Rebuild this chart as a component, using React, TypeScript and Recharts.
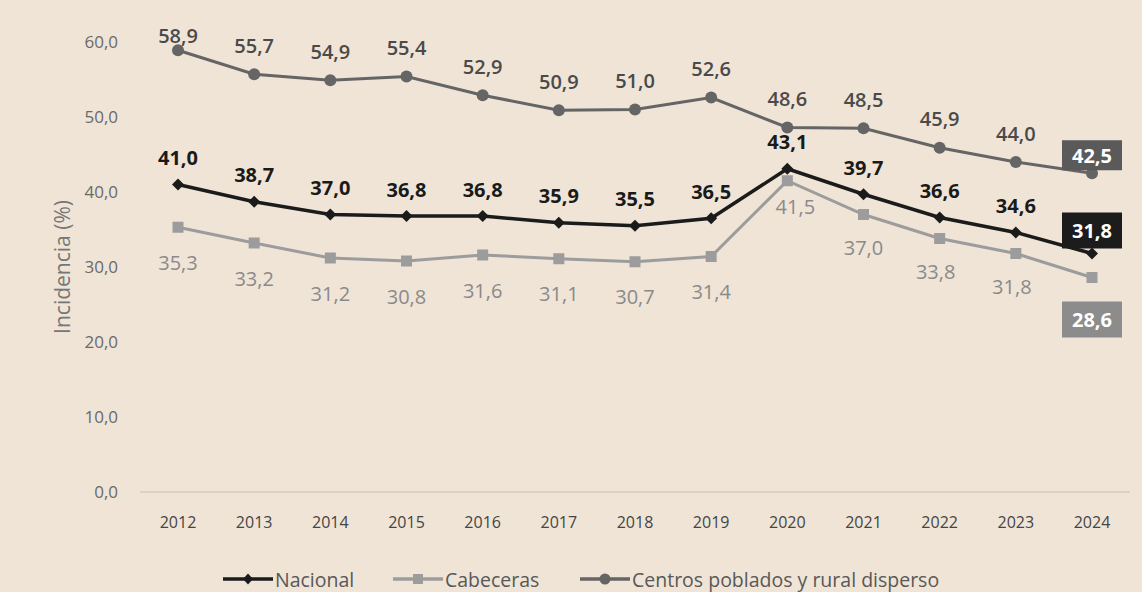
import React from 'react';
import { LineChart, Line, XAxis, YAxis, Legend, LabelList } from 'recharts';

const years = ['2012', '2013', '2014', '2015', '2016', '2017', '2018', '2019', '2020', '2021', '2022', '2023', '2024'];
const nacional = [41.0, 38.7, 37.0, 36.8, 36.8, 35.9, 35.5, 36.5, 43.1, 39.7, 36.6, 34.6, 31.8];
const cabeceras = [35.3, 33.2, 31.2, 30.8, 31.6, 31.1, 30.7, 31.4, 41.5, 37.0, 33.8, 31.8, 28.6];
const centros = [58.9, 55.7, 54.9, 55.4, 52.9, 50.9, 51.0, 52.6, 48.6, 48.5, 45.9, 44.0, 42.5];
const yTicks = [0, 10, 20, 30, 40, 50, 60];
const seriesNames = ['Nacional', 'Cabeceras', 'Centros poblados y rural disperso'];

const data = years.map((year, i) => ({
  year,
  nacional: nacional[i],
  cabeceras: cabeceras[i],
  centros: centros[i],
}));

const FONT = '"Open Sans", "Noto Sans", sans-serif';
const BG = '#efe4d6';
const C_NAC = '#1b1b1b';
const C_CAB = '#9c9c9c';
const C_CEN = '#656565';
const LBL = 20;

const fmt = (v: number) => v.toFixed(1).replace('.', ',');
const last = years.length - 1;

const NacLabel = (p: any) => {
  const { x, y, value, index } = p;
  if (index === last) {
    const cy = y - 23;
    return (
      <g>
        <rect x={x - 30} y={cy - 18} width={60} height={36} fill="#1c1c1c" />
        <text x={x} y={cy} textAnchor="middle" dominantBaseline="central" fill="#fff" fontSize={LBL} fontWeight={700} fontFamily={FONT}>{fmt(value)}</text>
      </g>
    );
  }
  return (
    <text x={x} y={y - 27} textAnchor="middle" dominantBaseline="central" fill="#1a1a1a" fontSize={LBL} fontWeight={700} fontFamily={FONT}>{fmt(value)}</text>
  );
};

const CabLabel = (p: any) => {
  const { x, y, value, index } = p;
  if (index === last) {
    const cy = y + 42;
    return (
      <g>
        <rect x={x - 30} y={cy - 18} width={60} height={36} fill="#8c8c8c" />
        <text x={x} y={cy} textAnchor="middle" dominantBaseline="central" fill="#fff" fontSize={LBL} fontWeight={700} fontFamily={FONT}>{fmt(value)}</text>
      </g>
    );
  }
  const dy = index === 8 ? 26 : index >= 9 ? 33 : 35;
  const dx = index === 8 ? 8 : index >= 10 ? -4 : 0;
  return (
    <text x={x + dx} y={y + dy} textAnchor="middle" dominantBaseline="central" fill="#8a8a8a" fontSize={LBL} fontWeight={500} fontFamily={FONT}>{fmt(value)}</text>
  );
};

const CenLabel = (p: any) => {
  const { x, y, value, index } = p;
  if (index === last) {
    const cy = y - 18;
    return (
      <g>
        <rect x={x - 30} y={cy - 15} width={60} height={30} fill="#5a5a5a" />
        <text x={x} y={cy} textAnchor="middle" dominantBaseline="central" fill="#fff" fontSize={LBL} fontWeight={700} fontFamily={FONT}>{fmt(value)}</text>
      </g>
    );
  }
  const ty = Math.max(y - 29, 27);
  return (
    <text x={x} y={ty} textAnchor="middle" dominantBaseline="central" fill="#4a4a4a" fontSize={LBL} fontWeight={600} fontFamily={FONT}>{fmt(value)}</text>
  );
};

const DiamondDot = (p: any) => {
  const { cx, cy, index } = p;
  const s = 6;
  return <path key={`d${index}`} d={`M${cx},${cy - s}L${cx + s},${cy}L${cx},${cy + s}L${cx - s},${cy}Z`} fill={C_NAC} />;
};
const SquareDot = (p: any) => {
  const { cx, cy, index } = p;
  return <rect key={`s${index}`} x={cx - 5.5} y={cy - 5.5} width={11} height={11} fill={C_CAB} />;
};
const CircleDot = (p: any) => {
  const { cx, cy, index } = p;
  return <circle key={`c${index}`} cx={cx} cy={cy} r={6} fill={C_CEN} />;
};

const LegendContent = () => {
  const item = (left: number, color: string, shape: string, label: string) => (
    <div key={label} style={{ position: 'absolute', left, top: 0, height: 26, display: 'flex', alignItems: 'center' }}>
      <svg width={50} height={14} style={{ display: 'block' }}>
        <line x1={0} y1={7} x2={50} y2={7} stroke={color} strokeWidth={3.5} />
        {shape === 'diamond' && <path d="M25,1.5L30,7L25,12.5L20,7Z" fill={color} />}
        {shape === 'square' && <rect x={20} y={2} width={10} height={10} fill={color} />}
        {shape === 'circle' && <circle cx={25} cy={7} r={5.5} fill={color} />}
      </svg>
      <span style={{ fontFamily: FONT, fontSize: 19.5, color: '#585858', marginLeft: 2, whiteSpace: 'nowrap' }}>{label}</span>
    </div>
  );
  return (
    <div style={{ position: 'relative', width: 1080, height: 26 }}>
      {item(173, C_NAC, 'diamond', seriesNames[0])}
      {item(343, C_CAB, 'square', seriesNames[1])}
      {item(530, C_CEN, 'circle', seriesNames[2])}
    </div>
  );
};

export default function App() {
  return (
    <div style={{ position: 'fixed', left: 0, top: 0, width: 1142, height: 592, padding: 8, boxSizing: 'border-box', background: BG, overflow: 'hidden' }}>
      <LineChart width={1126} height={584} data={data} margin={{ top: 34, right: 4, left: 42, bottom: 0 }}>
        <XAxis
          dataKey="year"
          interval={0}
          padding={{ left: 38, right: 38 }}
          tickLine={false}
          tickSize={0}
          tickMargin={25}
          height={74}
          axisLine={{ stroke: '#d8cbbb', strokeWidth: 1.5 }}
          tick={{ fill: '#454545', fontSize: 16, fontFamily: FONT }}
        />
        <YAxis
          domain={[0, 60]}
          ticks={yTicks}
          tickFormatter={fmt}
          axisLine={false}
          tickLine={false}
          tickSize={0}
          tickMargin={22}
          width={90}
          tick={{ fill: '#6a6a6a', fontSize: 17, fontFamily: FONT }}
          label={{ value: 'Incidencia (%)', angle: -90, position: 'insideLeft', offset: 13, style: { textAnchor: 'middle', fill: '#777', fontSize: 21, fontFamily: FONT } }}
        />
        <Legend verticalAlign="bottom" wrapperStyle={{ height: 26 }} content={() => <LegendContent />} />
        <Line dataKey="centros" name={seriesNames[2]} stroke={C_CEN} strokeWidth={3} dot={CircleDot} activeDot={false} isAnimationActive={false}>
          <LabelList dataKey="centros" content={CenLabel} />
        </Line>
        <Line dataKey="cabeceras" name={seriesNames[1]} stroke={C_CAB} strokeWidth={3} dot={SquareDot} activeDot={false} isAnimationActive={false}>
          <LabelList dataKey="cabeceras" content={CabLabel} />
        </Line>
        <Line dataKey="nacional" name={seriesNames[0]} stroke={C_NAC} strokeWidth={3.5} dot={DiamondDot} activeDot={false} isAnimationActive={false}>
          <LabelList dataKey="nacional" content={NacLabel} />
        </Line>
      </LineChart>
    </div>
  );
}
